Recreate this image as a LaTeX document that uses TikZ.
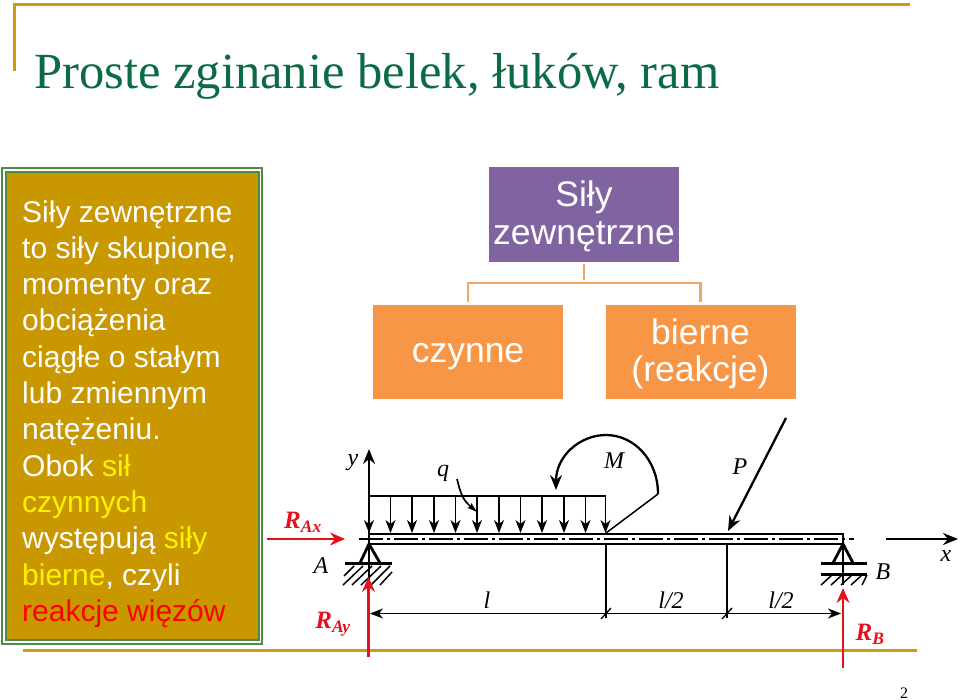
\documentclass[tikz,border=0pt]{standalone}
\usepackage{fontspec}
\usetikzlibrary{arrows.meta}
\setmainfont{Liberation Serif}
\setsansfont{Liberation Sans}
\definecolor{gold}{HTML}{CC9A14}
\definecolor{boxfill}{HTML}{C99700}
\definecolor{framegreen}{HTML}{4E8A45}
\definecolor{titlegreen}{HTML}{0B6B45}
\definecolor{purplebox}{HTML}{8064A2}
\definecolor{orangebox}{HTML}{F79646}
\definecolor{linkorange}{HTML}{F2A765}
\definecolor{redarrow}{HTML}{E3101E}
\newcommand{\lowertext}[2]{\raisebox{0pt}[\dimexpr\height+#1\relax][\depth]{#2}}
\tikzset{
  x=1pt,y=-1pt,
  rule/.style={gold,line width=2.1pt},
  block/.style={minimum width=190pt,minimum height=94.5pt,inner sep=0pt,text=white,align=center,font=\sffamily\fontsize{35.5}{37.5}\selectfont},
  link/.style={linkorange,line width=2.6pt,shorten <=2pt,shorten >=3pt},
  tipblack/.style={-{Stealth[length=13pt,width=10pt,inset=4pt]}},
  load/.style={black,line width=1.5pt,tipblack},
  force/.style={black,line width=2.3pt,-{Stealth[length=15pt,width=12pt,inset=5pt]}},
  reaction/.style={redarrow,line width=2.1pt,-{Stealth[length=15pt,width=13pt,inset=5pt]}},
  beam/.style={black,line width=2.8pt},
  thinline/.style={black,line width=1.3pt},
  hatch/.style={black,line width=1.5pt},
  label/.style={inner sep=0pt,font=\itshape\fontsize{24}{26}\selectfont},
  redlabel/.style={inner sep=0pt,text=redarrow,font=\bfseries\itshape\fontsize{25}{27}\selectfont}
}
\begin{document}
\begin{tikzpicture}
\useasboundingbox (0,0) rectangle (960,700);
\draw [rule] (14.5,71) -- (14.5,4.5) -- (910,4.5);
\draw [rule] (23,650.5) -- (917,650.5);
\node (title) [anchor=base west,inner sep=0pt,text=titlegreen,font=\fontsize{50.6}{54}\selectfont] at (34,89) {Proste zginanie belek, łuków, ram};
\node (page) [inner sep=0pt,font=\fontsize{16}{18}\selectfont] at (904,693) {2};

\node (frame) [draw=framegreen,fill=white,line width=1.6pt,minimum width=260pt,minimum height=476pt,inner sep=0pt] at (132,406) {};
\node (panel) [draw=framegreen,fill=boxfill,line width=2pt,minimum width=253pt,minimum height=468pt,inner sep=0pt,anchor=center] at (frame.center) {};
\node (opis) [anchor=west,inner sep=0pt,align=left,text=white,font=\sffamily\fontsize{30}{36.3}\selectfont] at (22,414) {
Siły zewnętrzne\\
to siły skupione,\\
momenty oraz\\
obciążenia\\
ciągłe o stałym\\
lub zmiennym\\
natężeniu.\\
Obok \textcolor{yellow}{sił}\\
\textcolor{yellow}{czynnych}\\
występują \textcolor{yellow}{siły}\\
\textcolor{yellow}{bierne}, czyli\\
\textcolor{red}{reakcje więzów}
};

\node (sily) [block,fill=purplebox] at (584,214.5) {\lowertext{4pt}{Siły}\\zewnętrzne};
\node (czynne) [block,fill=orangebox] at (468,352) {\lowertext{10pt}{czynne}};
\node (bierne) [block,fill=orangebox] at (700.5,352) {\lowertext{4pt}{bierne}\\(reakcje)};
\coordinate (split) at (584,283);
\draw [link] (sily.south) -- (split);
\draw [link,shorten <=0pt] (split) -| (czynne.north);
\draw [link,shorten <=0pt] (split) -| (bierne.north);

\coordinate (A) at (369,544);
\coordinate (B) at (843,544);
\coordinate (M1) at (606,544);
\coordinate (M2) at (727,544);

\draw [thinline,dash pattern=on 24pt off 4pt on 3pt off 4pt] (359,539) -- (854,539);
\draw [beam] (A |- 0,534) -- (B |- 0,534) -- (B);
\draw [beam] (A) -- (B);
\draw [beam] (369,534) -- (A);

\draw [thinline] (A) -- (369,585);
\draw [beam] (360,563) -- (A) -- (380,563);
\draw [beam] (345,563.5) -- (392,563.5);
\foreach \xa/\ya/\xb/\yb in {344/576/354/566,343/585/363/566,352/585/372/566,361/585/381/566,371/585/390/566,380/585/392/572}
  \draw [hatch] (\xa,\ya) -- (\xb,\yb);

\draw [thinline] (B) -- (843,585);
\draw [beam] (833,563) -- (B) -- (853,563);
\draw [beam] (821,563.5) -- (867,563.5);
\draw [beam] (821,574.5) -- (867,574.5);
\foreach \xa/\xb in {821/832,831/842,841/852,851/862,862/867}
  \draw [hatch] (\xa,585) -- (\xb,575);

\draw [thinline] (369,496) -- (606,496);
\foreach \xa in {369,390.5,412,434,455.5,477,499,520.5,542,564,585.5,605.5}
  \draw [load] (\xa,496) -- (\xa,533);
\draw [force] (369,536) -- (369,449);

\coordinate (qtail) at (457,479);
\coordinate (qtip) at (477,512);
\draw [black,line width=1.7pt,-{Stealth[length=10pt,width=6pt,inset=2pt]}] (qtail) .. controls (461,495) and (463,500) .. (qtip);

\coordinate (Mfoot) at (606,533);
\coordinate (Mrim) at (658,494);
\coordinate (Mtip) at (556,490);
\draw [black,line width=1.5pt] (Mfoot) -- (Mrim);
\draw [force] (Mrim) .. controls (658,460) and (634,435) .. (606,435) .. controls (580,435) and (556,456) .. (Mtip);

\coordinate (Ptail) at (786,418);
\coordinate (Ptip) at (728,531);
\draw [force] (Ptail) -- (Ptip);

\draw [thinline] (M1) -- (606,618);
\draw [thinline] (M2) -- (727,618);
\draw [black,line width=1.7pt,tipblack] (606,613.5) -- (370,613.5);
\draw [black,line width=1.7pt] (606,613.5) -- (727,613.5);
\draw [black,line width=1.7pt,tipblack] (727,613.5) -- (841,613.5);
\draw [thinline] (601,619) -- (611,608);
\draw [thinline] (722,619) -- (732,608);

\coordinate (xtail) at (886,539);
\coordinate (xtip) at (958,539);
\draw [force] (xtail) -- (xtip);

\draw [reaction] (267,539) -- (345,539);
\draw [reaction] (368.5,657) -- (368.5,577);
\draw [reaction] (843,668) -- (843,588);

\node (ly) [label] at (353,463) {y};
\node (lx) [label] at (946,556) {x};
\node (lq) [label] at (443,473) {q};
\node (lM) [label] at (614,461) {M};
\node (lP) [label] at (740,467) {P};
\node (lA) [label] at (321,566) {A};
\node (lB) [label] at (883,572) {B};
\node (ll) [label] at (487,600) {l};
\node (lla) [label] at (671,600) {l/2};
\node (llb) [label] at (781,600) {l/2};
\node (lRAx) [redlabel] at (303,522) {R\textsubscript{Ax}};
\node (lRAy) [redlabel] at (333,624) {R\textsubscript{Ay}};
\node (lRB) [redlabel] at (870,634) {R\textsubscript{B}};
\end{tikzpicture}
\end{document}
